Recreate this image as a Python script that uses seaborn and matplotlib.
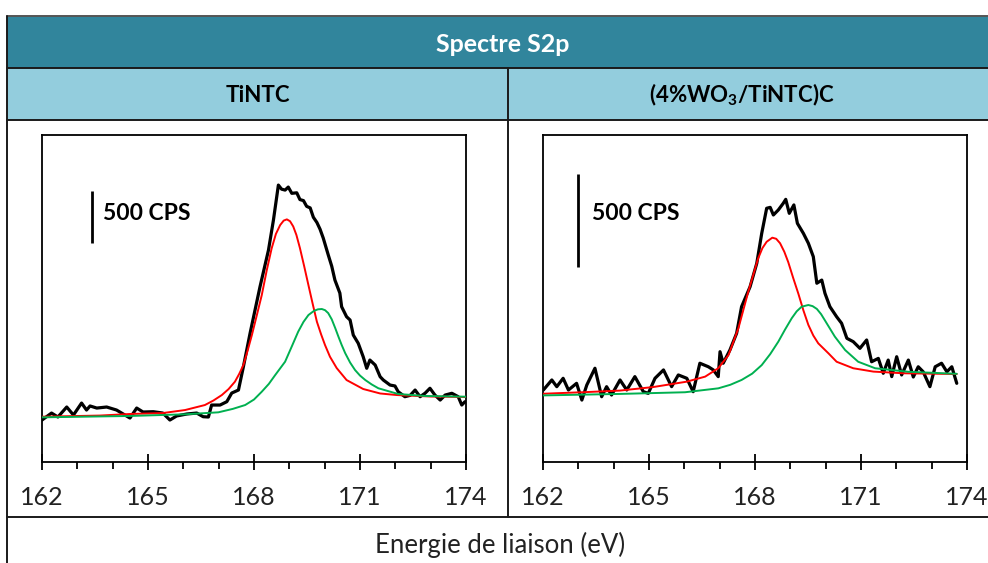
import numpy as np
import pandas as pd
import matplotlib
matplotlib.use("Agg")
import matplotlib.pyplot as plt
from matplotlib.patches import Rectangle
from matplotlib.lines import Line2D
from matplotlib.ticker import MultipleLocator
import seaborn as sns

# ---------------- data (binding energy in eV, intensity in CPS) ----------------
panel_titles = ["TiNTC", "(4%WO$_\\mathbf{3}$/TiNTC)C"]
main_title = "Spectre S2p"
x_label = "Energie de liaison (eV)"
x_ticks = [162, 165, 168, 171, 174]
scale_label = "500 CPS"
scale_value = 500

left_black_ev = [162.00, 162.27, 162.45, 162.70, 162.89, 163.12, 163.26, 163.36, 163.55, 163.83,
                 164.11, 164.49, 164.68, 164.86, 165.15, 165.42, 165.62, 165.81, 166.10, 166.38,
                 166.56, 166.71, 166.80, 167.04, 167.23, 167.37, 167.56, 167.70, 167.89, 168.17,
                 168.41, 168.55, 168.69, 168.78, 168.88, 168.97, 169.07, 169.21, 169.30, 169.40,
                 169.49, 169.59, 169.68, 169.78, 169.87, 169.96, 170.10, 170.20, 170.29, 170.43,
                 170.48, 170.62, 170.72, 170.81, 170.95, 171.09, 171.19, 171.28, 171.43, 171.57,
                 171.66, 171.85, 171.99, 172.08, 172.27, 172.42, 172.56, 172.70, 172.84, 172.98,
                 173.12, 173.27, 173.41, 173.60, 173.78, 173.88, 173.97]
left_black_cps = [403, 470, 432, 528, 451, 566, 499, 538, 518, 528,
                  499, 422, 518, 480, 483, 470, 403, 442, 461, 470,
                  435, 432, 547, 547, 579, 662, 691, 915, 1238, 1683,
                  2035, 2323, 2659, 2620, 2611, 2640, 2580, 2585, 2520, 2510,
                  2455, 2440, 2350, 2300, 2235, 2150, 1990, 1880, 1747, 1622,
                  1491, 1395, 1363, 1219, 1140, 1011, 900, 979, 931, 819,
                  787, 739, 730, 675, 627, 640, 691, 627, 660, 708,
                  643, 595, 643, 660, 627, 547, 579]

left_red_ev = [162.00, 163.64, 164.49, 165.42, 166.05, 166.61, 166.85, 167.09, 167.28, 167.46,
               167.58, 167.70, 167.82, 167.94, 168.08, 168.22, 168.36, 168.50, 168.62, 168.74,
               168.84, 168.93, 169.02, 169.11, 169.20, 169.30, 169.42, 169.54, 169.66, 169.78,
               169.90, 170.01, 170.15, 170.34, 170.62, 171.09, 171.57, 172.04, 172.98, 174.00]
left_red_cps = [435, 446, 461, 470, 499, 547, 590, 643, 700, 771,
                845, 931, 1070, 1219, 1410, 1603, 1840, 2052, 2190, 2275,
                2318, 2330, 2312, 2262, 2180, 2054, 1880, 1699, 1520, 1347,
                1225, 1123, 1011, 902, 787, 701, 658, 643, 629, 624]

left_green_ev = [162.00, 164.49, 166.05, 166.99, 167.40, 167.75, 168.00, 168.22, 168.42, 168.60,
                 168.88, 169.07, 169.25, 169.40, 169.54, 169.70, 169.81, 169.92, 170.01, 170.10,
                 170.20, 170.30, 170.39, 170.48, 170.58, 170.72, 170.86, 171.00, 171.15, 171.33,
                 171.52, 172.08, 172.84, 174.00]
left_green_cps = [429, 442, 458, 477, 510, 547, 600, 675, 750, 835,
                  963, 1110, 1251, 1345, 1411, 1452, 1466, 1469, 1458, 1430,
                  1370, 1285, 1203, 1125, 1046, 955, 883, 830, 787, 745,
                  708, 653, 634, 627]

right_black_ev = [162.01, 162.25, 162.39, 162.57, 162.72, 162.95, 163.10, 163.24, 163.47, 163.66,
                  163.80, 163.94, 164.18, 164.37, 164.60, 164.84, 164.98, 165.17, 165.41, 165.64,
                  165.83, 166.07, 166.25, 166.44, 166.68, 166.82, 166.96, 167.01, 167.10, 167.29,
                  167.48, 167.62, 167.86, 168.05, 168.19, 168.33, 168.43, 168.52, 168.66, 168.80,
                  168.87, 168.97, 169.10, 169.20, 169.37, 169.51, 169.65, 169.75, 169.89, 169.98,
                  170.12, 170.31, 170.45, 170.60, 170.78, 170.97, 171.16, 171.30, 171.49, 171.63,
                  171.77, 171.87, 172.01, 172.15, 172.34, 172.48, 172.62, 172.76, 172.95, 173.10,
                  173.28, 173.43, 173.57, 173.71]
right_black_cps = [387, 441, 405, 450, 387, 423, 333, 414, 504, 351,
                   405, 360, 441, 387, 459, 378, 369, 450, 495, 405,
                   468, 450, 378, 531, 512, 495, 459, 593, 531, 602,
                   692, 835, 942, 1068, 1229, 1364, 1369, 1328, 1355, 1391,
                   1412, 1337, 1382, 1283, 1229, 1176, 1104, 961, 978, 907,
                   835, 781, 746, 665, 647, 611, 656, 539, 557, 477,
                   548, 459, 566, 468, 548, 457, 512, 485, 405, 512,
                   531, 485, 512, 423]

right_red_ev = [162.01, 163.24, 164.18, 165.12, 166.07, 166.59, 166.96, 167.25, 167.53, 167.81,
                168.09, 168.21, 168.33, 168.49, 168.60, 168.71, 168.83, 168.94, 169.08, 169.23,
                169.37, 169.51, 169.65, 169.79, 170.08, 170.31, 170.78, 171.35, 172.20, 173.71]
right_red_cps = [367, 376, 384, 403, 432, 459, 504, 575, 719, 916,
                 1095, 1150, 1184, 1206, 1200, 1176, 1130, 1075, 990, 903,
                 815, 737, 680, 638, 584, 539, 504, 486, 477, 473]

right_green_ev = [162.01, 164.18, 166.02, 166.96, 167.30, 167.62, 167.92, 168.19, 168.43, 168.66,
                  168.85, 169.04, 169.18, 169.32, 169.51, 169.63, 169.75, 169.87, 169.98, 170.26,
                  170.55, 170.92, 171.40, 172.34, 173.71]
right_green_cps = [358, 366, 375, 396, 415, 441, 475, 521, 580, 647,
                   712, 773, 810, 835, 844, 838, 823, 795, 761, 674,
                   602, 539, 504, 485, 474]

# ---------------- style ----------------
sns.set_theme(style="white")
plt.rcParams["font.family"] = ["Lato", "DejaVu Sans"]
plt.rcParams["mathtext.fontset"] = "custom"
plt.rcParams["mathtext.rm"] = "Lato"
plt.rcParams["mathtext.bf"] = "Lato:bold"

W, H = 988, 563
fig = plt.figure(figsize=(W / 100, H / 100), dpi=100)
fig.patch.set_facecolor("white")


def fx(px):
    return px / W


def fy(py):
    return 1 - py / H


TEAL = "#31859C"
LIGHT = "#93CDDD"
BORDER = "#1a1a1a"

# table background rows
fig.add_artist(Rectangle((fx(7), fy(68)), fx(W - 7) + 0.01, fy(16) - fy(68),
                         transform=fig.transFigure, facecolor=TEAL, edgecolor="none", zorder=0))
fig.add_artist(Rectangle((fx(7), fy(120)), fx(W - 7) + 0.01, fy(68) - fy(120),
                         transform=fig.transFigure, facecolor=LIGHT, edgecolor="none", zorder=0))

for py in [16, 68, 120, 517]:
    fig.add_artist(Line2D([fx(7), 1.01], [fy(py), fy(py)], transform=fig.transFigure,
                          color=BORDER if py != 16 else "#555555", lw=1.4, zorder=1))
fig.add_artist(Line2D([fx(7), fx(7)], [fy(16), -0.01], transform=fig.transFigure,
                      color=BORDER, lw=1.4, zorder=1))
fig.add_artist(Line2D([fx(508), fx(508)], [fy(68), fy(517)], transform=fig.transFigure,
                      color=BORDER, lw=1.4, zorder=1))

fig.text(fx(503), fy(44), main_title, ha="center", va="center", color="white",
         fontsize=18, fontweight="bold")
fig.text(fx(258), fy(95), panel_titles[0], ha="center", va="center", color="black",
         fontsize=16, fontweight="bold")
fig.text(fx(742), fy(95), panel_titles[1], ha="center", va="center", color="black",
         fontsize=16, fontweight="bold")
fig.text(fx(500), fy(545), x_label, ha="center", va="center", color="#222222", fontsize=18.5)

panels = [
    dict(left=42, black=(left_black_ev, left_black_cps), red=(left_red_ev, left_red_cps),
         green=(left_green_ev, left_green_cps), ymax=3140, bar_x=163.42, bar_y0=2102, text_x=0.144),
    dict(left=543, black=(right_black_ev, right_black_cps), red=(right_red_ev, right_red_cps),
         green=(right_green_ev, right_green_cps), ymax=1758, bar_x=162.98, bar_y0=1050, text_x=0.115),
]

for p in panels:
    ax = fig.add_axes([fx(p["left"]), fy(462), 424 / W, 327 / H])
    ax.set_facecolor("white")
    for key, color, lw, z in [("black", "black", 2.3, 2), ("red", "#FF0000", 1.4, 3),
                              ("green", "#00B050", 1.4, 4)]:
        df = pd.DataFrame({"ev": p[key][0], "cps": p[key][1]})
        sns.lineplot(data=df, x="ev", y="cps", ax=ax, color=color, lw=lw,
                     estimator=None, zorder=z, legend=False,
                     solid_joinstyle="round", solid_capstyle="round")
    # 500 CPS scale bar
    ax.plot([p["bar_x"], p["bar_x"]], [p["bar_y0"], p["bar_y0"] + scale_value],
            color="black", lw=2.0, solid_capstyle="butt")
    ax.text(p["text_x"], 0.761, scale_label, transform=ax.transAxes, ha="left", va="center",
            fontsize=16.5, fontweight="bold", color="black")
    ax.set_xlim(162, 174)
    ax.set_ylim(0, p["ymax"])
    ax.set_xticks(x_ticks)
    ax.set_xticklabels([str(t) for t in x_ticks])
    ax.xaxis.set_minor_locator(MultipleLocator(1))
    ax.set_yticks([])
    ax.set_xlabel("")
    ax.set_ylabel("")
    for s in ax.spines.values():
        s.set_visible(True)
        s.set_color("black")
        s.set_linewidth(1.3)
    ax.tick_params(axis="x", which="major", direction="inout", length=12, width=1.3,
                   color="black", labelsize=18, labelcolor="#222222", pad=11, bottom=True)
    ax.tick_params(axis="x", which="minor", direction="out", length=5, width=1.3,
                   color="black", bottom=True)

fig.savefig("out.png", dpi=100, facecolor="white")
